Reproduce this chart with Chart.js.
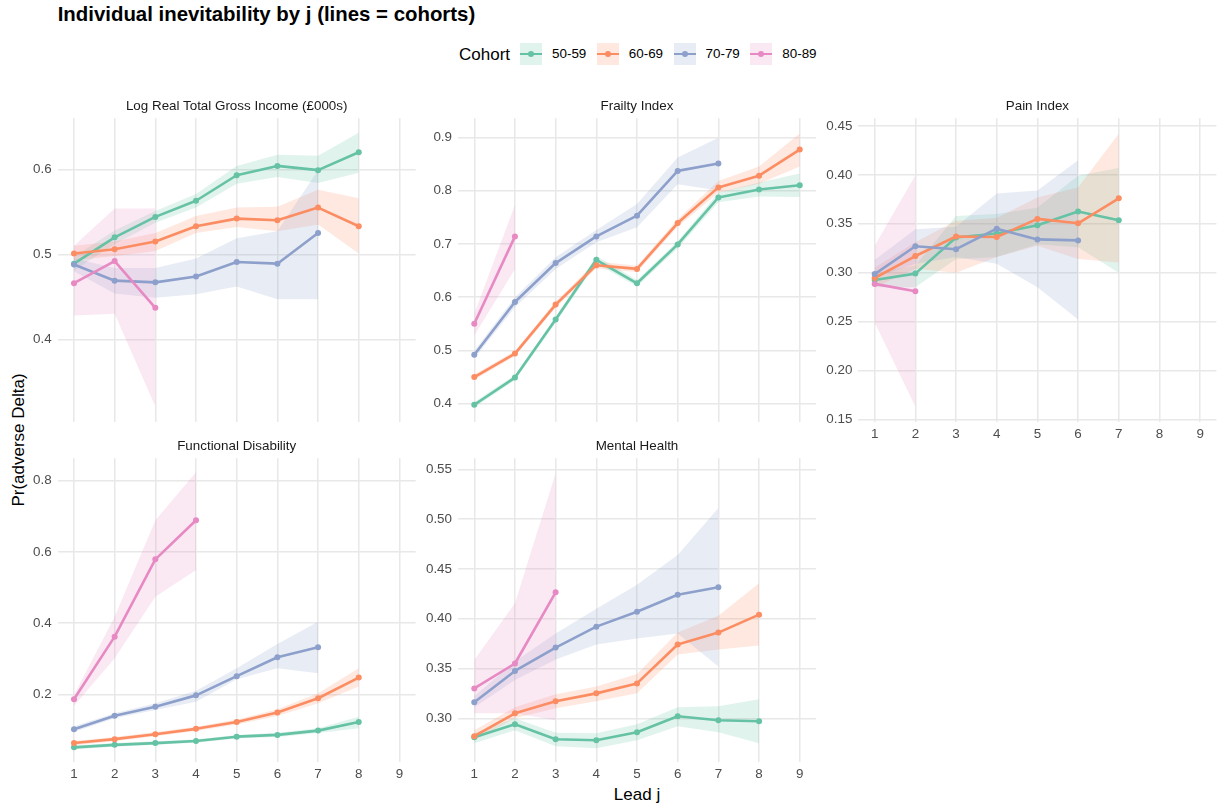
<!DOCTYPE html>
<html><head><meta charset="utf-8">
<script src="https://cdn.jsdelivr.net/npm/chart.js@4.4.1/dist/chart.umd.min.js"></script>
<style>
body{margin:0;background:#fff;width:1223px;height:807px;position:relative;overflow:hidden;font-family:"Liberation Sans",Arial,sans-serif;}
.abs{position:absolute;white-space:nowrap;line-height:1;}
canvas{position:absolute;}
#title{left:57.7px;top:3.7px;font-size:20.4px;font-weight:bold;color:#000;}
.strip{font-size:13.4px;color:#1a1a1a;transform:translateX(-50%);}
#ytitle{left:18px;top:440px;font-size:17px;color:#000;transform:translate(-50%,-50%) rotate(-90deg);}
#xtitle{left:637px;top:785.6px;font-size:17px;color:#000;transform:translateX(-50%);}
#legend{left:459px;top:43px;height:22px;display:flex;align-items:center;}
#legend .lt{font-size:17px;color:#000;margin-right:10px;}
#legend .key{position:relative;width:22px;height:22px;margin-right:10px;}
#legend .key .ln{position:absolute;left:0;right:0;top:9.8px;height:2.5px;}
#legend .key .dt{position:absolute;left:8px;top:8px;width:6px;height:6px;border-radius:50%;}
#legend .lab{font-size:13.4px;color:#000;margin-right:10.5px;}
</style>
</head>
<body>
<script>
// ---------- DATA ----------
const cohorts = ['50-59', '60-69', '70-79', '80-89'];
const leads = [1, 2, 3, 4, 5, 6, 7, 8, 9];
const xTickLabels = ['1','2','3','4','5','6','7','8','9'];
const panelTitles = ['Log Real Total Gross Income (£000s)', 'Frailty Index', 'Pain Index', 'Functional Disability', 'Mental Health'];

// Log Real Total Gross Income
const incomeMid = [
  [0.489, 0.520, 0.544, 0.563, 0.593, 0.604, 0.599, 0.620],
  [0.501, 0.506, 0.515, 0.533, 0.542, 0.540, 0.555, 0.533],
  [0.488, 0.469, 0.467, 0.474, 0.491, 0.489, 0.525],
  [0.466, 0.492, 0.437]
];
const incomeLo = [
  [0.481, 0.512, 0.537, 0.555, 0.583, 0.591, 0.584, 0.596],
  [0.493, 0.498, 0.504, 0.525, 0.532, 0.527, 0.535, 0.501],
  [0.480, 0.454, 0.449, 0.453, 0.462, 0.447, 0.447],
  [0.428, 0.430, 0.321]
];
const incomeHi = [
  [0.497, 0.528, 0.551, 0.571, 0.604, 0.617, 0.616, 0.643],
  [0.510, 0.515, 0.525, 0.545, 0.555, 0.556, 0.576, 0.566],
  [0.495, 0.484, 0.484, 0.495, 0.519, 0.527, 0.599],
  [0.510, 0.554, 0.554]
];
const incomeYTicks = [0.4, 0.5, 0.6];
const incomeYLabels = ['0.4', '0.5', '0.6'];

// Frailty Index
const frailtyMid = [
  [0.398, 0.449, 0.558, 0.670, 0.626, 0.699, 0.787, 0.802, 0.810],
  [0.450, 0.494, 0.586, 0.660, 0.653, 0.739, 0.806, 0.828, 0.877],
  [0.492, 0.591, 0.664, 0.714, 0.753, 0.837, 0.851],
  [0.550, 0.714]
];
const frailtyLo = [
  [0.393, 0.444, 0.552, 0.663, 0.620, 0.692, 0.778, 0.789, 0.788],
  [0.445, 0.489, 0.580, 0.654, 0.647, 0.732, 0.796, 0.813, 0.845],
  [0.485, 0.581, 0.653, 0.703, 0.731, 0.812, 0.800],
  [0.528, 0.653]
];
const frailtyHi = [
  [0.403, 0.454, 0.563, 0.677, 0.632, 0.705, 0.796, 0.815, 0.832],
  [0.455, 0.499, 0.592, 0.667, 0.659, 0.746, 0.818, 0.845, 0.907],
  [0.499, 0.600, 0.675, 0.726, 0.775, 0.862, 0.899],
  [0.569, 0.773]
];
const frailtyYTicks = [0.4, 0.5, 0.6, 0.7, 0.8, 0.9];
const frailtyYLabels = ['0.4', '0.5', '0.6', '0.7', '0.8', '0.9'];

// Pain Index
const painMid = [
  [0.2925, 0.299, 0.336, 0.340, 0.3485, 0.3625, 0.3535],
  [0.2945, 0.317, 0.337, 0.3365, 0.355, 0.3505, 0.376],
  [0.2985, 0.327, 0.324, 0.345, 0.334, 0.333],
  [0.2885, 0.281]
];
const painLo = [
  [0.285, 0.285, 0.314, 0.316, 0.329, 0.326, 0.300],
  [0.285, 0.304, 0.300, 0.316, 0.3275, 0.314, 0.3105],
  [0.295, 0.309, 0.316, 0.309, 0.285, 0.252],
  [0.249, 0.163]
];
const painHi = [
  [0.300, 0.307, 0.358, 0.360, 0.3665, 0.399, 0.407],
  [0.305, 0.331, 0.353, 0.356, 0.377, 0.387, 0.442],
  [0.313, 0.3445, 0.347, 0.381, 0.384, 0.415],
  [0.3275, 0.3995]
];
const painYTicks = [0.15, 0.20, 0.25, 0.30, 0.35, 0.40, 0.45];
const painYLabels = ['0.15', '0.20', '0.25', '0.30', '0.35', '0.40', '0.45'];

// Functional Disability
const funcMid = [
  [0.051, 0.058, 0.063, 0.069, 0.081, 0.086, 0.098, 0.122],
  [0.063, 0.074, 0.088, 0.103, 0.122, 0.149, 0.189, 0.247],
  [0.102, 0.140, 0.165, 0.197, 0.251, 0.304, 0.332],
  [0.186, 0.362, 0.579, 0.689]
];
const funcLo = [
  [0.046, 0.053, 0.058, 0.064, 0.076, 0.080, 0.091, 0.105],
  [0.057, 0.068, 0.082, 0.097, 0.115, 0.139, 0.175, 0.222],
  [0.094, 0.133, 0.156, 0.179, 0.242, 0.273, 0.259],
  [0.167, 0.301, 0.474, 0.549]
];
const funcHi = [
  [0.056, 0.063, 0.068, 0.074, 0.086, 0.092, 0.105, 0.137],
  [0.069, 0.080, 0.094, 0.109, 0.129, 0.158, 0.203, 0.273],
  [0.110, 0.147, 0.175, 0.210, 0.273, 0.341, 0.404],
  [0.198, 0.418, 0.689, 0.824]
];
const funcYTicks = [0.2, 0.4, 0.6, 0.8];
const funcYLabels = ['0.2', '0.4', '0.6', '0.8'];

// Mental Health
const mentalMid = [
  [0.281, 0.294, 0.279, 0.278, 0.286, 0.302, 0.298, 0.297],
  [0.282, 0.305, 0.317, 0.325, 0.335, 0.374, 0.386, 0.404],
  [0.316, 0.3475, 0.371, 0.392, 0.407, 0.424, 0.4315],
  [0.330, 0.355, 0.4265]
];
const mentalLo = [
  [0.275, 0.288, 0.272, 0.270, 0.278, 0.292, 0.286, 0.275],
  [0.278, 0.300, 0.310, 0.317, 0.325, 0.364, 0.369, 0.373],
  [0.311, 0.3385, 0.359, 0.374, 0.380, 0.385, 0.352],
  [0.305, 0.305, 0.298]
];
const mentalHi = [
  [0.285, 0.300, 0.2855, 0.285, 0.294, 0.311, 0.312, 0.319],
  [0.288, 0.311, 0.324, 0.332, 0.3445, 0.386, 0.403, 0.4355],
  [0.322, 0.357, 0.385, 0.410, 0.434, 0.464, 0.511],
  [0.3585, 0.4155, 0.546]
];
const mentalYTicks = [0.30, 0.35, 0.40, 0.45, 0.50, 0.55];
const mentalYLabels = ['0.30', '0.35', '0.40', '0.45', '0.50', '0.55'];

// ---------- STYLE / LAYOUT ----------
const COLORS = ['#66C2A5', '#FC8D62', '#8DA0CB', '#E78AC3'];
const FILLS = ['rgba(102,194,165,0.2)', 'rgba(252,141,98,0.2)', 'rgba(141,160,203,0.2)', 'rgba(231,138,195,0.2)'];
const COL_LEFT = [57.7, 458.0, 858.4];
const ROW_TOP = [118.3, 458.3];
const PW = 358, PH = 303.4;
const YW = 50, PT = 20, PR = 6, XH = 30;
const FONT = '"Liberation Sans", Arial, sans-serif';

function addText(cls, id, text, left, top) {
  const d = document.createElement('div');
  d.className = 'abs ' + cls;
  if (id) d.id = id;
  d.textContent = text;
  if (left !== null) d.style.left = left + 'px';
  if (top !== null) d.style.top = top + 'px';
  document.body.appendChild(d);
  return d;
}

addText('', 'title', 'Individual inevitability by j (lines = cohorts)', null, null);
addText('', 'ytitle', 'Pr(adverse Delta)', null, null);
addText('', 'xtitle', 'Lead j', null, null);

// legend
const leg = document.createElement('div');
leg.className = 'abs'; leg.id = 'legend';
const lt = document.createElement('span'); lt.className = 'lt'; lt.textContent = 'Cohort'; leg.appendChild(lt);
cohorts.forEach((c, i) => {
  const k = document.createElement('span'); k.className = 'key'; k.style.background = FILLS[i];
  const ln = document.createElement('span'); ln.className = 'ln'; ln.style.background = COLORS[i]; k.appendChild(ln);
  const dt = document.createElement('span'); dt.className = 'dt'; dt.style.background = COLORS[i]; k.appendChild(dt);
  leg.appendChild(k);
  const lb = document.createElement('span'); lb.className = 'lab'; lb.textContent = c; leg.appendChild(lb);
});
document.body.appendChild(leg);

function pts(arr) { return arr.map((v, i) => ({x: leads[i], y: v})); }

function makePanel(p) {
  const plotLeft = COL_LEFT[p.col], plotTop = ROW_TOP[p.row];
  const cLeft = Math.floor(plotLeft - YW);
  const cTop = Math.floor(plotTop - PT);
  const w = Math.ceil(plotLeft + PW + PR - cLeft);
  const h = Math.ceil(plotTop + PH + XH - cTop);
  const pad = {
    left: plotLeft - YW - cLeft,
    top: plotTop - cTop,
    right: cLeft + w - (plotLeft + PW),
    bottom: cTop + h - (plotTop + PH) - XH
  };
  const cv = document.createElement('canvas');
  cv.width = w; cv.height = h;
  cv.style.left = cLeft + 'px'; cv.style.top = cTop + 'px';
  cv.style.width = w + 'px'; cv.style.height = h + 'px';
  document.body.appendChild(cv);

  // strip title
  addText('strip', null, p.title, plotLeft + PW / 2, plotTop - 19.6);

  const datasets = [];
  cohorts.forEach((c, i) => {
    datasets.push({label: c + ' lo', data: pts(p.lo[i]), borderWidth: 0, pointRadius: 0, fill: false, order: 30 - i});
    datasets.push({label: c + ' hi', data: pts(p.hi[i]), borderWidth: 0, pointRadius: 0, fill: '-1', backgroundColor: FILLS[i], order: 30 - i});
  });
  cohorts.forEach((c, i) => {
    datasets.push({label: c, data: pts(p.mid[i]), borderColor: COLORS[i], backgroundColor: COLORS[i],
      borderWidth: 2.6, pointRadius: 3, pointHoverRadius: 3, pointBorderWidth: 0, fill: false,
      borderJoinStyle: 'round', order: 10 - i});
  });

  new Chart(cv, {
    type: 'line',
    data: {datasets},
    options: {
      responsive: false, animation: false, devicePixelRatio: 1,
      events: [],
      layout: {padding: pad},
      plugins: {legend: {display: false}, tooltip: {enabled: false}, title: {display: false},
        filler: {drawTime: 'beforeDatasetsDraw'}},
      scales: {
        x: {
          type: 'linear', min: 0.6, max: 9.4,
          afterBuildTicks: s => { s.ticks = leads.map(v => ({value: v})); },
          afterFit: s => { s.height = XH; },
          grid: {color: '#e8e8e8', lineWidth: 1.5, drawTicks: false},
          border: {display: false},
          ticks: {display: p.showX, autoSkip: false, maxRotation: 0, padding: 5, color: '#4d4d4d',
            font: {family: FONT, size: 13.4}, callback: (v, idx) => xTickLabels[idx]}
        },
        y: {
          type: 'linear', min: p.yMin, max: p.yMax,
          afterBuildTicks: s => { s.ticks = p.yTicks.map(v => ({value: v})); },
          afterFit: s => { s.width = YW; },
          grid: {color: '#e8e8e8', lineWidth: 1.5, drawTicks: false},
          border: {display: false},
          ticks: {autoSkip: false, padding: 6, color: '#4d4d4d',
            font: {family: FONT, size: 13.4}, callback: (v, idx) => p.yLabels[idx]}
        }
      }
    }
  });
}

makePanel({col: 0, row: 0, title: panelTitles[0], mid: incomeMid, lo: incomeLo, hi: incomeHi,
  yMin: 0.3031, yMax: 0.66, yTicks: incomeYTicks, yLabels: incomeYLabels, showX: false});
makePanel({col: 1, row: 0, title: panelTitles[1], mid: frailtyMid, lo: frailtyLo, hi: frailtyHi,
  yMin: 0.3662, yMax: 0.9357, yTicks: frailtyYTicks, yLabels: frailtyYLabels, showX: false});
makePanel({col: 2, row: 0, title: panelTitles[2], mid: painMid, lo: painLo, hi: painHi,
  yMin: 0.1475, yMax: 0.4579, yTicks: painYTicks, yLabels: painYLabels, showX: true});
makePanel({col: 0, row: 1, title: panelTitles[3], mid: funcMid, lo: funcLo, hi: funcHi,
  yMin: 0.0107, yMax: 0.8629, yTicks: funcYTicks, yLabels: funcYLabels, showX: true});
makePanel({col: 1, row: 1, title: panelTitles[4], mid: mentalMid, lo: mentalLo, hi: mentalHi,
  yMin: 0.2564, yMax: 0.561, yTicks: mentalYTicks, yLabels: mentalYLabels, showX: true});
</script>
</body></html>
